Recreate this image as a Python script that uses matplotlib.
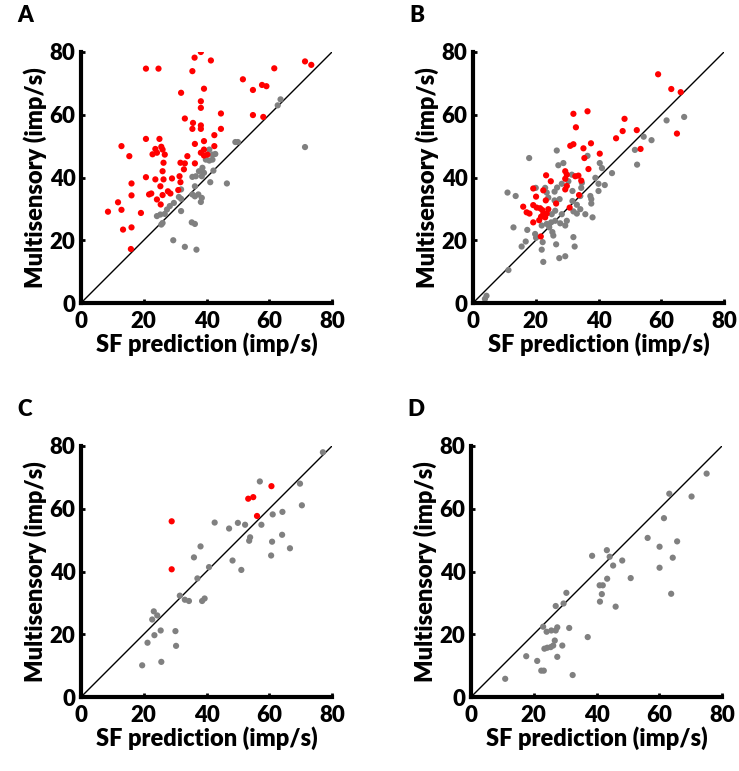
import matplotlib.pyplot as plt

plt.rcParams["font.family"] = ["Lato", "DejaVu Sans"]
plt.rcParams["font.weight"] = "bold"

RED = "#ff0000"
GRAY = "#808080"

# Panel A
a_red_x = [38.2, 36.2, 41.4, 20.7, 24.7, 35.5, 71.4, 73.4, 61.6, 51.6, 54.8, 57.7, 59.1, 31.9, 39.2,
           38.2, 38.2, 44.6, 54.8, 58.1, 33.1, 35.7, 35.5, 38.2, 38.2, 44.6, 42.5, 20.7, 25.0, 39.2,
           36.3, 12.9, 42.5, 23.7, 25.6, 26.0, 24.2, 22.8, 26.7, 26.3, 26.0, 26.3, 15.4, 39.2, 38.2,
           39.2, 40.3, 33.9, 31.7, 33.1, 32.8, 36.3, 20.7, 23.7, 25.3, 29.0, 31.4, 31.7, 16.1, 22.4,
           21.7, 27.7, 28.5, 26.0, 31.0, 16.1, 11.8, 12.9, 8.6, 19.1, 25.4, 24.2, 13.4, 16.1, 15.9]
a_red_y = [80.0, 78.2, 77.3, 74.7, 74.7, 73.9, 77.0, 75.9, 74.8, 71.3, 67.9, 69.5, 69.1, 67.0, 68.3,
           64.3, 62.2, 60.4, 59.9, 59.3, 58.8, 57.4, 55.5, 56.6, 55.5, 55.5, 53.5, 52.3, 52.3, 51.6,
           50.7, 50.0, 50.0, 49.1, 49.8, 48.9, 47.9, 47.4, 47.3, 44.7, 42.0, 39.4, 46.8, 48.9, 47.9,
           47.0, 47.3, 46.8, 44.7, 44.5, 42.6, 44.5, 40.1, 39.4, 37.2, 39.7, 40.4, 38.5, 38.1, 34.9,
           34.6, 35.6, 34.9, 34.4, 36.0, 34.3, 32.1, 29.7, 29.1, 28.7, 31.4, 33.0, 23.4, 24.1, 17.2]
a_gray_x = [62.7, 63.6, 49.2, 50.0, 71.4, 40.9, 41.9, 42.8, 39.8, 40.9, 41.9, 38.7, 37.6, 36.6, 35.5,
            42.2, 46.5, 41.2, 38.5, 39.2, 36.3, 35.5, 36.3, 37.4, 38.5, 38.2, 31.9, 31.2, 31.9, 31.9,
            29.6, 28.3, 27.4, 26.7, 25.3, 24.2, 26.0, 25.6, 35.3, 36.3, 29.4, 33.1, 36.8]
a_gray_y = [63.0, 64.9, 51.3, 51.3, 49.7, 48.9, 47.3, 47.5, 45.7, 45.4, 45.7, 43.1, 42.0, 40.4, 40.2,
            42.2, 38.1, 38.5, 40.4, 41.5, 37.2, 34.6, 34.0, 34.6, 33.5, 32.2, 36.2, 33.8, 33.2, 29.3,
            31.9, 30.9, 29.8, 28.4, 28.2, 27.7, 25.5, 25.0, 25.7, 25.2, 20.0, 17.9, 17.0]

# Panel B
b_red_x = [59.0, 63.2, 66.2, 65.0, 32.0, 36.5, 32.8, 48.3, 47.7, 52.2, 45.6, 53.4, 37.6, 32.0, 31.0,
           35.2, 35.5, 40.4, 36.8, 29.4, 29.9, 29.4, 23.3, 24.8, 32.6, 33.6, 34.5, 19.2, 20.1, 22.4,
           29.9, 29.4, 23.2, 26.5, 33.8, 30.8, 16.0, 17.1, 18.0, 19.2, 20.3, 21.4, 22.1, 22.4, 21.7,
           21.1, 23.0, 23.5, 24.0, 19.2, 21.6]
b_red_y = [72.9, 68.2, 67.2, 54.0, 60.3, 61.1, 56.0, 58.7, 54.8, 55.1, 52.5, 49.1, 50.9, 50.6, 50.1,
           49.3, 46.2, 47.6, 42.7, 42.0, 40.9, 39.6, 40.7, 38.8, 40.4, 40.6, 39.0, 36.5, 33.9, 35.9,
           37.3, 36.2, 32.7, 31.7, 34.4, 30.4, 30.7, 28.9, 28.5, 31.2, 30.4, 30.2, 29.6, 28.3, 27.5,
           26.4, 27.3, 28.5, 29.9, 25.7, 21.2]
b_gray_x = [67.3, 61.7, 54.4, 56.9, 51.6, 52.3, 44.3, 40.4, 41.1, 39.0, 40.0, 42.0, 40.0, 36.5, 26.7,
            17.9, 27.2, 28.8, 11.0, 13.6, 20.0, 23.5, 26.0, 26.0, 27.6, 31.7, 34.5, 34.2, 37.4, 37.7,
            37.7, 31.7, 33.1, 32.0, 33.1, 35.8, 38.1, 12.9, 17.3, 16.8, 15.5, 19.8, 20.1, 21.9, 23.5,
            24.9, 26.2, 24.3, 25.3, 25.6, 22.2, 21.9, 22.4, 26.5, 27.5, 29.4, 29.4, 27.8, 29.9, 32.0,
            32.4, 11.3, 4.3, 3.8, 28.3, 26.8, 23.0, 24.0, 30.4, 31.5, 34.7, 34.2, 28.3, 26.2, 25.1]
b_gray_y = [59.3, 58.2, 53.0, 51.9, 48.8, 44.1, 41.4, 44.6, 43.0, 39.9, 38.0, 37.6, 35.7, 46.9, 48.6,
            46.2, 43.9, 44.6, 35.2, 34.1, 36.7, 35.2, 32.7, 35.5, 33.1, 35.7, 36.7, 34.1, 34.1, 33.1,
            31.7, 32.5, 31.3, 29.2, 28.5, 28.3, 27.3, 24.1, 23.3, 19.6, 18.0, 22.0, 20.8, 24.7, 25.2,
            25.7, 26.2, 24.1, 22.6, 21.5, 19.4, 17.0, 13.1, 18.7, 14.3, 14.9, 24.7, 25.4, 26.2, 21.0,
            18.0, 10.5, 2.3, 1.3, 38.0, 36.8, 36.7, 33.6, 38.8, 40.9, 38.3, 29.9, 28.3, 29.4, 28.3]

# Panel C
c_red_x = [28.9, 28.9, 53.3, 54.9, 56.1, 60.7]
c_red_y = [56.0, 40.7, 63.2, 63.7, 57.7, 67.2]
c_gray_x = [77.1, 69.8, 70.4, 57.0, 64.2, 61.1, 57.5, 52.3, 50.0, 47.2, 42.6, 53.9, 53.6, 64.1, 60.9,
            66.6, 60.6, 48.3, 51.1, 38.1, 36.0, 40.8, 37.1, 31.5, 33.1, 34.4, 39.4, 38.6, 23.2, 24.3,
            22.7, 25.4, 30.1, 23.4, 21.2, 30.3, 19.5, 25.6]
c_gray_y = [78.0, 68.0, 61.1, 68.7, 59.0, 58.2, 54.9, 54.9, 55.5, 53.7, 55.6, 50.9, 49.8, 51.7, 49.5,
            47.4, 45.1, 43.5, 40.5, 48.0, 44.5, 41.4, 37.8, 32.3, 31.0, 30.6, 31.4, 30.6, 27.3, 26.0,
            24.7, 21.2, 21.0, 19.7, 17.3, 16.3, 10.1, 11.2]

# Panel D
d_gray_x = [75.1, 63.2, 70.3, 61.5, 56.3, 60.1, 65.7, 64.3, 60.1, 63.8, 38.6, 43.3, 44.2, 45.3, 48.2,
            43.4, 50.9, 41.0, 42.0, 41.7, 41.1, 46.1, 30.4, 29.5, 27.0, 31.3, 23.0, 24.1, 25.6, 27.0,
            27.5, 26.7, 29.1, 23.4, 24.3, 25.4, 26.2, 37.2, 17.6, 21.1, 27.5, 22.4, 23.2, 32.4, 10.9]
d_gray_y = [71.2, 64.8, 63.9, 57.0, 50.7, 47.9, 49.6, 44.4, 41.2, 32.9, 45.0, 46.8, 44.7, 41.9, 43.5,
            37.7, 37.9, 35.6, 35.6, 32.8, 30.4, 28.8, 33.2, 29.8, 29.0, 22.0, 22.4, 20.8, 21.2, 21.2,
            22.2, 18.0, 16.4, 15.4, 15.7, 15.9, 16.4, 19.1, 13.0, 11.5, 12.8, 8.4, 8.4, 7.0, 5.8]

ticks = [0, 20, 40, 60, 80]

fig = plt.figure(figsize=(7.39, 7.71), dpi=100)

# axes origin in pixels of the reference, square axes
boxes = {"A": (81, 303), "B": (473, 303), "C": (81, 697), "D": (471, 697)}
size = 251

panels = {
    "A": [(a_gray_x, a_gray_y, GRAY), (a_red_x, a_red_y, RED)],
    "B": [(b_gray_x, b_gray_y, GRAY), (b_red_x, b_red_y, RED)],
    "C": [(c_gray_x, c_gray_y, GRAY), (c_red_x, c_red_y, RED)],
    "D": [(d_gray_x, d_gray_y, GRAY)],
}

W, H = 739, 771
for name, (x0, y0) in boxes.items():
    ax = fig.add_axes([x0 / W, (H - y0) / H, size / W, size / H])
    ax.plot([0, 80], [0, 80], color="black", lw=1, zorder=1)
    for xs, ys, col in panels[name]:
        ax.scatter(xs, ys, s=20, color=col, edgecolors="none", zorder=2)
    ax.set_xlim(0, 80)
    ax.set_ylim(0, 80)
    ax.set_xticks(ticks)
    ax.set_yticks(ticks)
    for side in ["top", "right"]:
        ax.spines[side].set_visible(False)
    for side in ["left", "bottom"]:
        ax.spines[side].set_linewidth(3)
    ax.tick_params(direction="in", length=3, width=2, labelsize=16)
    ax.tick_params(axis="x", pad=6)
    ax.tick_params(axis="y", pad=4)
    for lab in ax.get_xticklabels() + ax.get_yticklabels():
        lab.set_fontweight("heavy")
    ax.set_xlabel("SF prediction (imp/s)", fontsize=17, fontweight="heavy", labelpad=0)
    ax.set_ylabel("Multisensory (imp/s)", fontsize=17, fontweight="heavy", labelpad=2)
    fig.text((x0 - 64) / W, (H - (y0 - 288)) / H, name, fontsize=16, fontweight="heavy",
             ha="left", va="center")

fig.savefig("out.png", dpi=100)
